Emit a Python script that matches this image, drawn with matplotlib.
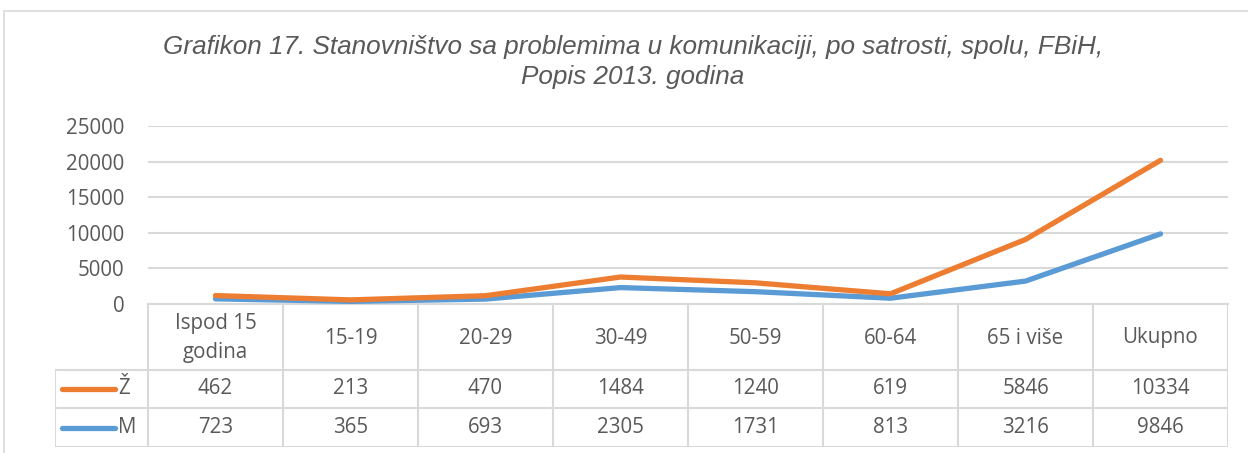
import matplotlib
matplotlib.use("Agg")
import matplotlib.pyplot as plt
from matplotlib.patches import Rectangle
import numpy as np

categories = ["Ispod 15\ngodina", "15-19", "20-29", "30-49", "50-59", "60-64", "65 i više", "Ukupno"]
zene = [462, 213, 470, 1484, 1240, 619, 5846, 10334]
muski = [723, 365, 693, 2305, 1731, 813, 3216, 9846]
yticks = [0, 5000, 10000, 15000, 20000, 25000]
title = "Grafikon 17. Stanovništvo sa problemima u komunikaciji, po satrosti, spolu, FBiH,\nPopis 2013. godina"

W, H = 1248, 453
ORANGE = "#ED7D31"
BLUE = "#5B9BD5"
GRID = "#D9D9D9"
TXT = "#595959"
FONT = "Open Sans"
FS = 14.8

fig = plt.figure(figsize=(W / 100, H / 100), dpi=100)

def fx(px):
    return px / W

def fy(py):
    return 1 - py / H

# outer chart border
fig.patches.append(Rectangle((fx(4), fy(600)), fx(1400), fy(11) - fy(600),
                             transform=fig.transFigure, fill=False,
                             edgecolor=GRID, linewidth=1.2))

fig.text(fx(633), fy(62), title, ha="center", va="center", fontsize=18.8,
         style="italic", family="Liberation Sans", color=TXT, linespacing=1.3)

# main plot
L, R, T, B = 148, 1228, 126, 304
ax = fig.add_axes([fx(L), fy(B), fx(R) - fx(L), fy(T) - fy(B)])
x = np.arange(len(categories))
stacked = np.array(muski) + np.array(zene)
ax.plot(x, muski, color=BLUE, lw=3.8, solid_capstyle="round", solid_joinstyle="round", zorder=3)
ax.plot(x, stacked, color=ORANGE, lw=3.8, solid_capstyle="round", solid_joinstyle="round", zorder=4)
ax.set_xlim(-0.5, len(categories) - 0.5)
ax.set_ylim(0, 25000)
ax.set_yticks(yticks)
ax.set_yticklabels([str(v) for v in yticks], fontsize=FS, color=TXT, family=FONT)
ax.tick_params(axis="y", length=0, pad=17)
ax.set_xticks([])
for s in ["top", "right", "left"]:
    ax.spines[s].set_visible(False)
ax.spines["bottom"].set_color(GRID)
ax.spines["bottom"].set_linewidth(1.5)
ax.grid(axis="y", color=GRID, lw=1.5)
ax.set_axisbelow(True)
ax.patch.set_alpha(0)

# data table
TL, TT, TB = 55, 304, 447
legw = (L - TL) / ((R - L) / len(categories))
tax = fig.add_axes([fx(TL), fy(TB), fx(R) - fx(TL), fy(TT) - fy(TB)])
tax.set_xlim(-0.5 - legw, len(categories) - 0.5)
tax.set_ylim(TB - TT, 0)
tax.axis("off")
tax.patch.set_alpha(0)
r1, r2, r3 = 370 - TT, 408 - TT, 447 - TT
lk = dict(color=GRID, lw=1.5, solid_capstyle="butt")
for i in range(len(categories) + 1):
    tax.plot([i - 0.5, i - 0.5], [0, r3], **lk)
tax.plot([-0.5 - legw, -0.5 - legw], [r1, r3], **lk)
for yy in (r1, r2, r3):
    tax.plot([-0.5 - legw, len(categories) - 0.5], [yy, yy], **lk)

for i, c in enumerate(categories):
    tax.text(i, r1 / 2 + 1, c, ha="center", va="center", fontsize=FS, color=TXT,
             family=FONT, linespacing=1.5)
    tax.text(i, (r1 + r2) / 2, str(zene[i]), ha="center", va="center", fontsize=FS,
             color=TXT, family=FONT)
    tax.text(i, (r2 + r3) / 2, str(muski[i]), ha="center", va="center", fontsize=FS,
             color=TXT, family=FONT)

# legend keys
unit = (R - L) / len(categories)
x0 = -0.5 - legw + (62 - TL) / unit
x1 = -0.5 - legw + (115 - TL) / unit
xl = -0.5 - legw + (118 - TL) / unit
for (yy, col, lab) in [((r1 + r2) / 2, ORANGE, "Ž"), ((r2 + r3) / 2, BLUE, "M")]:
    tax.plot([x0, x1], [yy, yy], color=col, lw=3.8, solid_capstyle="round")
    tax.text(xl, yy, lab, ha="left", va="center", fontsize=FS, color=TXT, family=FONT)

fig.savefig("out.png", dpi=100)
